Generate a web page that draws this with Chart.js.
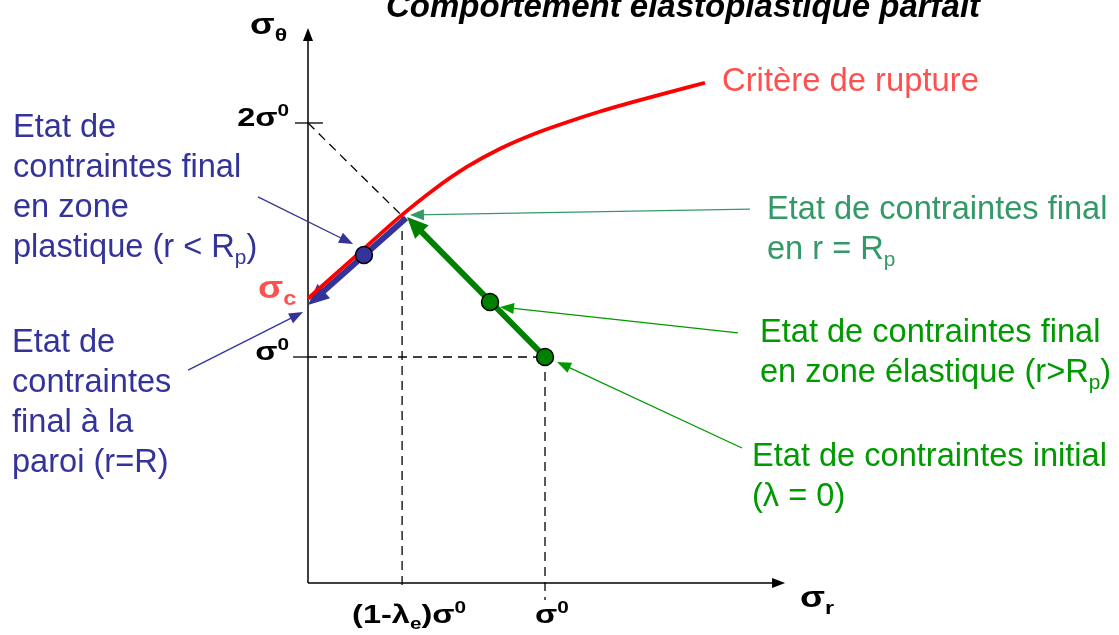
<!DOCTYPE html>
<html>
<head>
<meta charset="utf-8">
<script src="https://cdn.jsdelivr.net/npm/chart.js@4/dist/chart.umd.min.js"></script>
<style>
  html, body { margin: 0; padding: 0; background: #fff; }
  canvas { display: block; }
</style>
</head>
<body>
<canvas id="chart" width="1119" height="635"></canvas>
<script>
// Values in units of sigma0 (x = sigma_r, y = sigma_theta)
const criterionR = [0, 0.2, 0.388, 0.529, 0.67, 0.81, 0.951, 1.092, 1.232, 1.373, 1.514, 1.675];
const criterionT = [1.25, 1.43, 1.6, 1.714, 1.812, 1.89, 1.952, 2.003, 2.049, 2.09, 2.129, 2.172];

const elasticPathR = [1, 0.418];
const elasticPathT = [1, 1.598];
const plasticPathR = [0.414, 0];
const plasticPathT = [1.594, 1.222];

const greenDotsR = [0.768, 1];
const greenDotsT = [1.235, 1];
const blueDotR = [0.236];
const blueDotT = [1.436];

const guideLines = [
    { r: [0, 0.397], t: [2, 1.603] },
    { r: [0.397, 0.397], t: [1.603, 0.013] },
    { r: [0, 1], t: [1, 1] },
    { r: [1, 1], t: [1, -0.038] }
];
const tickMarks = [
    { r: [-0.055, 0.063], t: [2, 2] },
    { r: [-0.063, 0], t: [1, 1] }
];
const axisX = { r: [0, 2.013], t: [0.034, 0.034] };
const axisY = { r: [0, 0], t: [0.034, 2.406] };

const xTickValues = [0.397, 1];
const xTickLabels = ['(1-λ_e)σ^0', 'σ^0'];
const yTickValues = [2, 1];
const yTickLabels = ['2σ^0', 'σ^0'];

// pointer lines from the captions to the states
const pointers = [
    { r: [-0.211, 0.19], t: [1.684, 1.483], color: '#333399' },
    { r: [-0.506, -0.021], t: [0.944, 1.192], color: '#333399' },
    { r: [1.865, 0.43], t: [1.632, 1.607], color: '#339966' },
    { r: [1.814, 0.81], t: [1.103, 1.214], color: '#009900' },
    { r: [1.831, 1.051], t: [0.611, 0.979], color: '#009900' }
];

const FONT = '"Liberation Sans", Arial, Helvetica, sans-serif';

function toPoints(xs, ys) {
    return xs.map((x, i) => ({ x: x, y: ys[i] }));
}

function lineSet(xs, ys, color, width, extra) {
    return Object.assign({
        data: toPoints(xs, ys),
        showLine: true,
        borderColor: color,
        backgroundColor: color,
        borderWidth: width,
        pointRadius: 0,
        borderCapStyle: 'butt'
    }, extra || {});
}

const datasets = [];
datasets.push({
    data: toPoints(blueDotR, blueDotT),
    backgroundColor: '#333399', borderColor: '#000', borderWidth: 1.5,
    pointRadius: 8.5, order: 1
});
datasets.push({
    data: toPoints(greenDotsR, greenDotsT),
    backgroundColor: '#008000', borderColor: '#000', borderWidth: 1.5,
    pointRadius: 8.5, order: 1
});
pointers.forEach(p => datasets.push(lineSet(p.r, p.t, p.color, 1.3, { order: 2, arrowHead: [14, 5.5] })));
datasets.push(lineSet(criterionR, criterionT, '#ff0000', 3.8, { order: 3, cubicInterpolationMode: 'monotone' }));
datasets.push(lineSet(plasticPathR, plasticPathT, '#333399', 6, { order: 4, arrowHead: [21, 9.5] }));
datasets.push(lineSet(elasticPathR, elasticPathT, '#008000', 6, { order: 4, arrowHead: [21, 9.5] }));
datasets.push(lineSet(axisX.r, axisX.t, '#000', 1.5, { order: 7, arrowHead: [13, 5] }));
datasets.push(lineSet(axisY.r, axisY.t, '#000', 1.5, { order: 7, arrowHead: [13, 5] }));
tickMarks.forEach(m => datasets.push(lineSet(m.r, m.t, '#000', 1.3, { order: 7 })));
guideLines.forEach(g => datasets.push(lineSet(g.r, g.t, '#000', 1.3, { order: 8, borderDash: [9, 6] })));

// split "a_b^c" into normal / sub / sup pieces (one char after the marker)
function parseRich(str) {
    const segs = [];
    for (let i = 0; i < str.length; i++) {
        const c = str[i];
        if ((c === '_' || c === '^') && i + 1 < str.length) {
            segs.push({ t: str[i + 1], k: c === '_' ? 'sub' : 'sup' });
            i++;
        } else {
            const last = segs[segs.length - 1];
            if (last && !last.k) last.t += c;
            else segs.push({ t: c, k: null });
        }
    }
    return segs;
}

function drawRich(ctx, str, x, y, o) {
    const segs = parseRich(str);
    const sx = o.sx || 1;
    const style = (o.italic ? 'italic ' : '') + (o.bold ? 'bold ' : '');
    const fontFor = s => style + (s.k ? o.size * 0.64 : o.size) + 'px ' + FONT;
    let total = 0;
    segs.forEach(s => { ctx.font = fontFor(s); total += ctx.measureText(s.t).width; });
    total *= sx;
    if (o.align === 'right') x -= total;
    if (o.align === 'center') x -= total / 2;
    ctx.save();
    ctx.translate(x, y);
    ctx.scale(sx, 1);
    ctx.fillStyle = o.color || '#000';
    ctx.textBaseline = 'alphabetic';
    ctx.textAlign = 'left';
    let cx = 0;
    segs.forEach(s => {
        ctx.font = fontFor(s);
        let dy = 0;
        if (s.k === 'sub') dy = o.size * 0.22;
        if (s.k === 'sup') dy = -o.size * 0.38;
        ctx.fillText(s.t, cx, dy);
        cx += ctx.measureText(s.t).width;
    });
    ctx.restore();
}

const captions = [
    { lines: ['Comportement élastoplastique parfait'], x: 386, y: 17, size: 33, bold: true, italic: true },
    { lines: ['σ_θ'], x: 250, y: 34, size: 30, bold: true, sx: 1.2 },
    { lines: ['σ_c'], x: 258, y: 298, size: 32, bold: true, sx: 1.15, color: '#ff5050' },
    { lines: ['σ_r'], x: 800, y: 607, size: 30, bold: true, sx: 1.22 },
    { lines: ['Critère de rupture'], x: 722, y: 91, size: 32.8, color: '#ff5050' },
    { lines: ['Etat de contraintes final', 'en r = R_p'], x: 767, y: 219, size: 32.6, color: '#339966' },
    { lines: ['Etat de contraintes final', 'en zone élastique (r>R_p)'], x: 760, y: 342, size: 32.6, color: '#009900' },
    { lines: ['Etat de contraintes initial', '(λ = 0)'], x: 752, y: 466, size: 32.6, color: '#009900' },
    { lines: ['Etat de', 'contraintes final', 'en zone', 'plastique (r < R_p)'], x: 13, y: 137, size: 32.6, color: '#333399' },
    { lines: ['Etat de', 'contraintes', 'final à la', 'paroi (r=R)'], x: 12, y: 352, size: 32.6, color: '#333399' }
];

const arrowPlugin = {
    id: 'arrowHeads',
    beforeDatasetDraw(chart, args) {
        const ds = chart.data.datasets[args.index];
        if (!ds.arrowHead) return;
        const pts = args.meta.data;
        const a = pts[pts.length - 2], b = pts[pts.length - 1];
        const ang = Math.atan2(b.y - a.y, b.x - a.x);
        const dx = Math.cos(ang), dy = Math.sin(ang);
        const bx = b.x - dx * ds.arrowHead[0] * 0.6, by = b.y - dy * ds.arrowHead[0] * 0.6;
        const big = 5000;
        const ctx = chart.ctx;
        ctx.save();
        ctx.beginPath();
        ctx.moveTo(bx - dy * big, by + dx * big);
        ctx.lineTo(bx + dy * big, by - dx * big);
        ctx.lineTo(bx + dy * big - dx * big, by - dx * big - dy * big);
        ctx.lineTo(bx - dy * big - dx * big, by + dx * big - dy * big);
        ctx.closePath();
        ctx.clip();
    },
    afterDatasetDraw(chart, args) {
        const ds = chart.data.datasets[args.index];
        if (!ds.arrowHead) return;
        const ctx = chart.ctx;
        ctx.restore();
        const pts = args.meta.data;
        const a = pts[pts.length - 2], b = pts[pts.length - 1];
        const ang = Math.atan2(b.y - a.y, b.x - a.x);
        const L = ds.arrowHead[0], W = ds.arrowHead[1];
        ctx.save();
        ctx.fillStyle = ds.borderColor;
        ctx.translate(b.x, b.y);
        ctx.rotate(ang);
        ctx.beginPath();
        ctx.moveTo(0, 0);
        ctx.lineTo(-L, -W);
        ctx.lineTo(-L, W);
        ctx.closePath();
        ctx.fill();
        ctx.restore();
    }
};

const textPlugin = {
    id: 'captions',
    afterDraw(chart) {
        const ctx = chart.ctx;
        const xs = chart.scales.x, ys = chart.scales.y;
        xTickValues.forEach((v, i) => {
            drawRich(ctx, xTickLabels[i], xs.getPixelForValue(v) + 7, 623, { size: 26, bold: true, sx: 1.25, align: 'center' });
        });
        yTickValues.forEach((v, i) => {
            drawRich(ctx, yTickLabels[i], 289, ys.getPixelForValue(v) + 3, { size: 26, bold: true, sx: 1.25, align: 'right' });
        });
        captions.forEach(c => {
            c.lines.forEach((line, i) => drawRich(ctx, line, c.x, c.y + i * 40, c));
        });
    }
};

new Chart(document.getElementById('chart'), {
    type: 'scatter',
    data: { datasets: datasets },
    options: {
        responsive: false,
        animation: false,
        devicePixelRatio: 1,
        layout: { padding: 0, autoPadding: false },
        plugins: { legend: { display: false }, tooltip: { enabled: false } },
        scales: {
            // whole canvas: origin at (308, 591), 237 px per unit in x, 234 px in y
            x: { type: 'linear', min: -1.2996, max: 3.4219, display: false },
            y: { type: 'linear', min: -0.188, max: 2.5256, display: false }
        }
    },
    plugins: [arrowPlugin, textPlugin]
});
</script>
</body>
</html>
